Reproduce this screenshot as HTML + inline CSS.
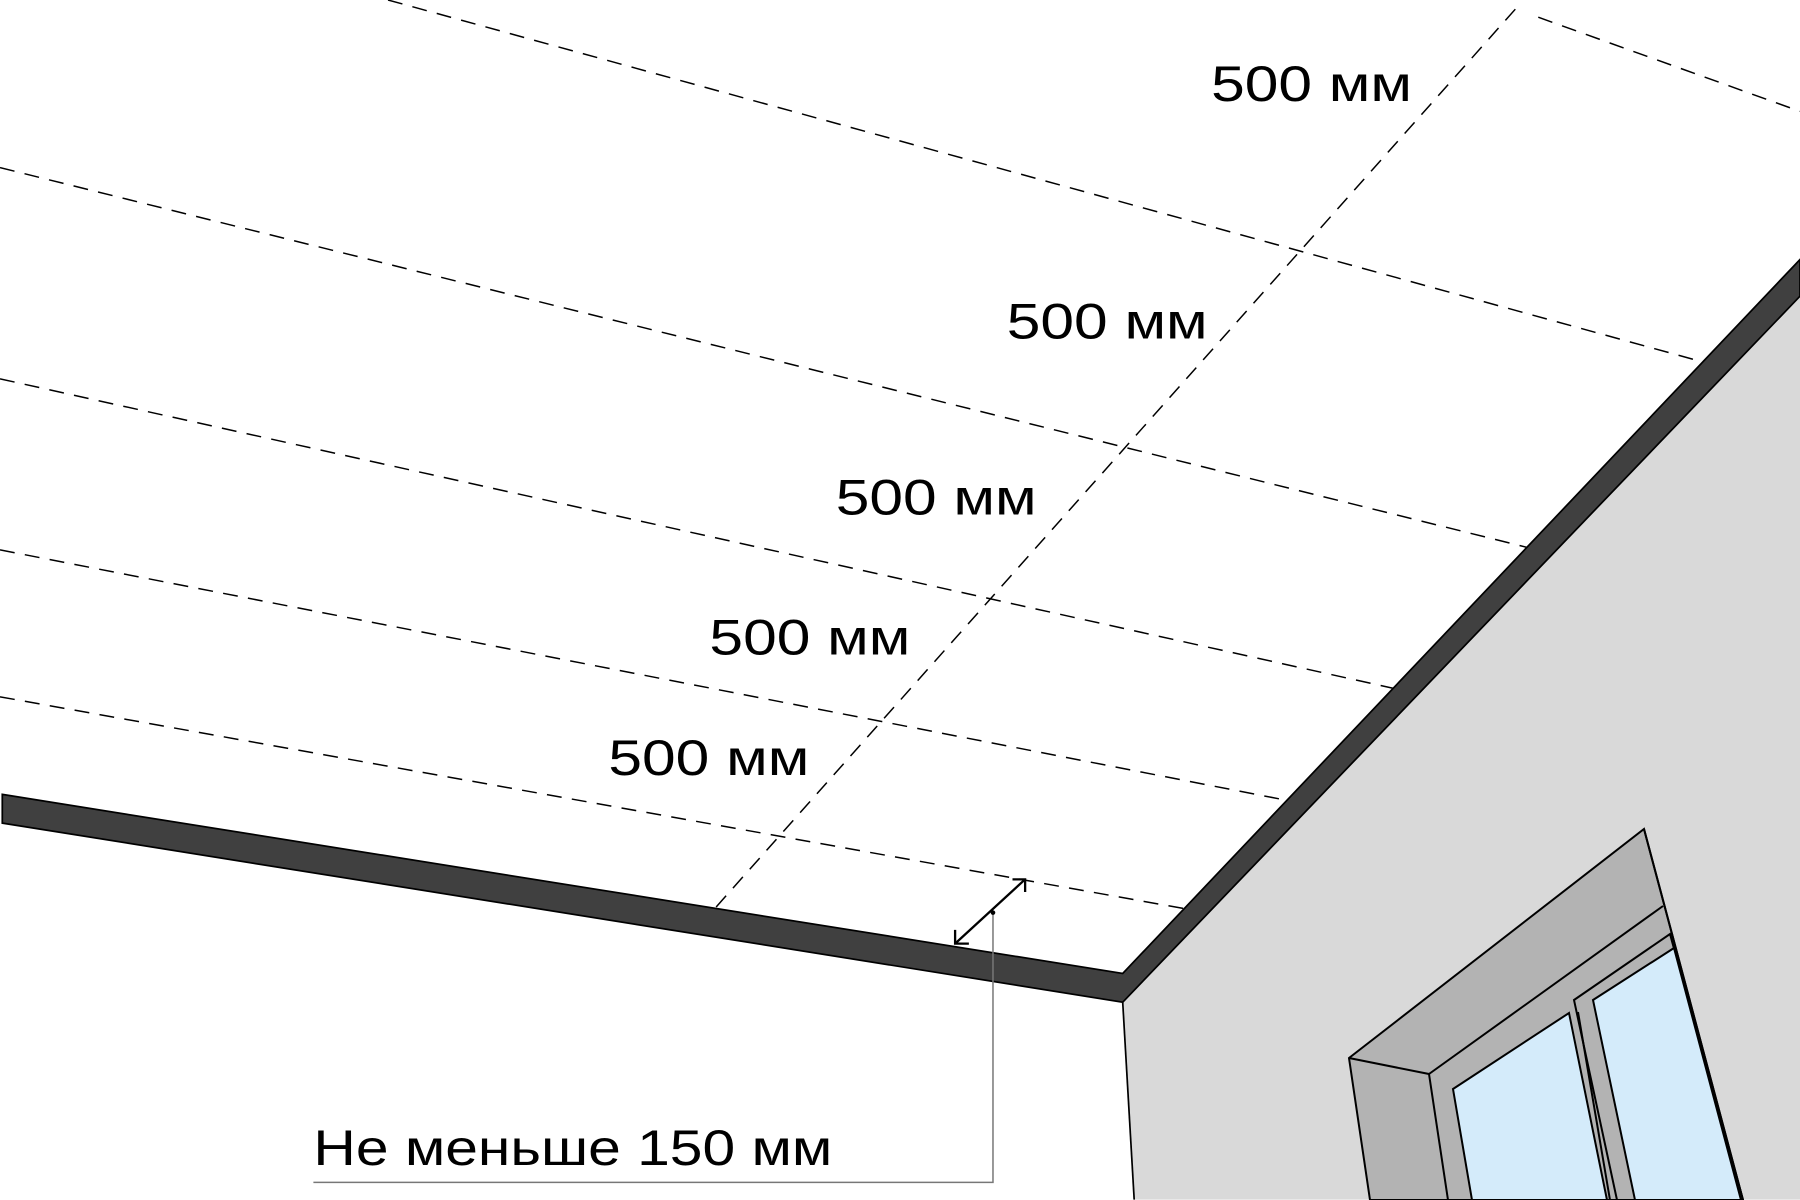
<!DOCTYPE html>
<html><head><meta charset="utf-8"><style>
html,body{margin:0;padding:0;background:#fff;}
svg{display:block}
text{font-family:"Liberation Sans","DejaVu Sans",sans-serif;fill:#000}
</style></head><body>
<svg width="1800" height="1200" viewBox="0 0 1800 1200" xmlns="http://www.w3.org/2000/svg">
<rect width="1800" height="1200" fill="#fff"/>
<g transform="scale(1.14796)">
  <polygon points="978,873 1568,258 1568,1045 988,1045" fill="#d9d9d9"/>
  <line x1="978" y1="873" x2="988" y2="1045" stroke="#000" stroke-width="1.5"/>
  <g stroke="#000" stroke-width="1.3" stroke-dasharray="13,9" fill="none">
    <line x1="338" y1="0" x2="1475" y2="313"/>
    <line x1="0" y1="146" x2="1335" y2="478"/>
    <line x1="0" y1="330" x2="1220" y2="601"/>
    <line x1="0" y1="479" x2="1120" y2="697"/>
    <line x1="0" y1="607" x2="1040" y2="793"/>
    <line x1="1340" y1="15" x2="1568" y2="97"/>
    <line x1="1320" y1="8" x2="615" y2="800"/>
  </g>
  <polygon points="2,692 978,848 1568,226 1568,258 978,873 2,717" fill="#404040" stroke="#000" stroke-width="1.5"/>
  <polyline points="273,1030 865,1030 865,795" fill="none" stroke="#777" stroke-width="1.3"/>
  <g stroke="#000" stroke-width="2" fill="none">
    <line x1="832" y1="822" x2="893" y2="766"/>
    <polyline points="882,766 893,766 893,777"/>
    <polyline points="832,810 832,822 844,822"/>
  </g>
  <circle cx="865" cy="795" r="2" fill="#000"/>
  <g font-size="44">
    <text x="1055" y="88" textLength="175" lengthAdjust="spacingAndGlyphs">500 мм</text>
    <text x="877" y="295" textLength="175" lengthAdjust="spacingAndGlyphs">500 мм</text>
    <text x="728" y="448" textLength="175" lengthAdjust="spacingAndGlyphs">500 мм</text>
    <text x="618" y="570" textLength="175" lengthAdjust="spacingAndGlyphs">500 мм</text>
    <text x="530" y="675" textLength="175" lengthAdjust="spacingAndGlyphs">500 мм</text>
    <text x="273" y="1015" textLength="452" lengthAdjust="spacingAndGlyphs">Не меньше 150 мм</text>
  </g>
</g>
<g stroke="#000" stroke-width="2" stroke-linejoin="miter">
  <polygon points="1349,1058 1644,829 1743,1200 1370,1200" fill="#b3b3b3"/>
  <polyline points="1349,1058 1429,1074 1448,1200" fill="none"/>
  <polyline points="1429,1074 1663,906" fill="none"/>
  <polygon points="1574,1000 1670,934 1743,1200 1617,1200" fill="#b3b3b3"/>
  <polygon points="1453,1089 1569,1013 1607,1200 1472,1200" fill="#d4ebfa"/>
  <line x1="1578" y1="1012" x2="1610" y2="1200"/>
  <polygon points="1593,1000 1674,948 1741,1200 1635,1200" fill="#d4ebfa"/>
  <line x1="1644" y1="829" x2="1743" y2="1200"/>
</g>
</svg>
</body></html>
